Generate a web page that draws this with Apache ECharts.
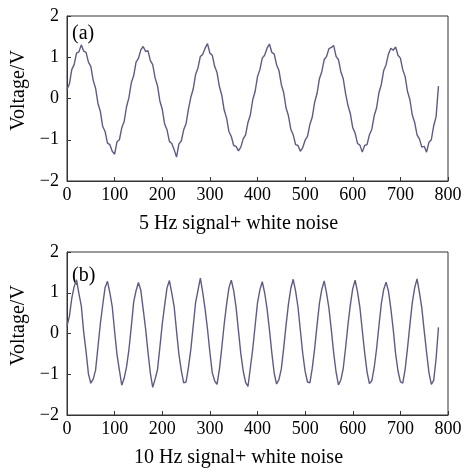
<!DOCTYPE html>
<html>
<head>
<meta charset="utf-8">
<script src="https://cdn.jsdelivr.net/npm/echarts@6/dist/echarts.min.js"></script>
<style>
    html, body { margin: 0; padding: 0; background: #fff; }
    #signal-chart { width: 475px; height: 469px; }
</style>
</head>
<body>
<div id="signal-chart"></div>
<script>
"use strict";

// sample index, one reading every 5 samples
var sampleIndex = [];
for (var s = 0; s <= 780; s += 5) sampleIndex.push(s);

var xTicks = [0, 100, 200, 300, 400, 500, 600, 700, 800];
var yTicks = [-2, -1, 0, 1, 2];

// (a) 5 Hz signal + white noise
var signal5Hz = [
    0.22, 0.35, 0.70, 0.82, 1.10, 1.13, 1.30, 1.15, 1.12, 0.88, 0.78, 0.44, 0.25, -0.12,
    -0.31, -0.68, -0.80, -1.08, -1.12, -1.28, -1.35, -1.05, -1.00, -0.71, -0.56, -0.20, 0.02,
    0.38, 0.55, 0.88, 0.97, 1.18, 1.26, 1.14, 1.16, 0.92, 0.82, 0.50, 0.31, -0.06,
    -0.26, -0.62, -0.76, -1.04, -1.09, -1.24, -1.42, -1.10, -1.03, -0.76, -0.61, -0.26, 0.03,
    0.23, 0.58, 0.74, 1.02, 1.07, 1.22, 1.33, 1.10, 1.05, 0.78, 0.63, 0.29, 0.08,
    -0.28, -0.47, -0.80, -0.92, -1.14, -1.16, -1.27, -1.18, -0.98, -0.88, -0.58, -0.40, -0.03,
    0.17, 0.53, 0.70, 0.98, 1.05, 1.22, 1.32, 1.12, 1.08, 0.82, 0.68, 0.34, 0.14,
    -0.23, -0.42, -0.75, -0.88, -1.12, -1.14, -1.28, -1.19, -1.01, -0.92, -0.63, -0.45, -0.09,
    0.12, 0.48, 0.65, 0.94, 1.02, 1.21, 1.24, 1.28, 1.02, 0.94, 0.65, 0.48, 0.12,
    -0.17, -0.37, -0.71, -0.84, -1.09, -1.13, -1.30, -1.14, -1.12, -0.88, -0.75, -0.42, -0.23,
    0.14, 0.34, 0.68, 0.82, 1.08, 1.22, 1.17, 1.25, 1.05, 0.98, 0.70, 0.53, 0.17,
    -0.03, -0.40, -0.58, -0.88, -0.98, -1.18, -1.16, -1.30, -1.06, -1.00, -0.66, -0.44, 0.30
];

// (b) 10 Hz signal + white noise
var signal10Hz = [
    0.18, 0.42, 0.86, 1.15, 1.32, 0.98, 0.68, 0.04, -0.44, -0.99, -1.22, -1.12, -0.90,
    -0.33, 0.24, 0.70, 1.13, 1.28, 1.00, 0.66, 0.05, -0.52, -0.90, -1.27, -1.10, -0.82,
    -0.40, 0.17, 0.77, 1.05, 1.25, 1.06, 0.59, 0.12, -0.45, -0.97, -1.32, -1.12, -0.89,
    -0.34, 0.23, 0.69, 1.12, 1.30, 0.99, 0.66, 0.06, -0.51, -0.91, -1.21, -1.19, -0.83,
    -0.39, 0.18, 0.76, 1.06, 1.36, 1.01, 0.60, 0.11, -0.46, -0.96, -1.16, -1.25, -0.88,
    -0.35, 0.22, 0.71, 1.12, 1.31, 1.05, 0.64, 0.07, -0.50, -0.92, -1.20, -1.30, -0.84,
    -0.38, 0.19, 0.75, 1.07, 1.27, 1.00, 0.61, 0.10, -0.47, -0.97, -1.24, -1.13, -0.87,
    -0.36, 0.21, 0.72, 1.11, 1.33, 1.04, 0.65, 0.08, -0.49, -0.93, -1.19, -1.21, -0.85,
    -0.37, 0.20, 0.74, 1.08, 1.29, 0.99, 0.62, 0.09, -0.48, -0.95, -1.26, -1.14, -0.86,
    -0.35, 0.22, 0.71, 1.10, 1.31, 1.02, 0.64, 0.08, -0.47, -0.94, -1.23, -1.16, -0.84,
    -0.38, 0.19, 0.73, 1.08, 1.26, 1.04, 0.61, 0.10, -0.50, -0.92, -1.18, -1.22, -0.88,
    -0.36, 0.21, 0.75, 1.12, 1.34, 1.01, 0.63, 0.07, -0.46, -0.96, -1.25, -1.15, -0.62,
    0.15
];

var panelNames = ["(a)", "(b)"];
var xTitles = ["5 Hz signal+ white noise", "10 Hz signal+ white noise"];
var yTitle = "Voltage/V";

(function () {

    function signalVM() {
        let self = this;
        let font = "'Liberation Serif', 'DejaVu Serif', serif";

        self.pairs = function (values) {
            return sampleIndex.map((x, i) => [x, values[i]]);
        }

        self.xAxis = function (gridIndex, name) {
            return {
                type: 'value', gridIndex: gridIndex,
                min: xTicks[0], max: xTicks[xTicks.length - 1], interval: 100,
                name: name, nameLocation: 'middle', nameGap: 33,
                // title sits a little left of the plot centre in the original
                nameTextStyle: { fontFamily: font, fontSize: 20, color: '#000', padding: [0, 38, 0, 0] },
                axisLine: { show: true, onZero: false, lineStyle: { color: '#333', width: 1 } },
                axisTick: { show: true, inside: true, length: 4, lineStyle: { color: '#333' } },
                axisLabel: { fontFamily: font, fontSize: 18, color: '#000', margin: 5 },
                splitLine: { show: false }
            };
        }

        self.yAxis = function (gridIndex) {
            return {
                type: 'value', gridIndex: gridIndex,
                min: yTicks[0], max: yTicks[yTicks.length - 1], interval: 1,
                name: yTitle, nameLocation: 'middle', nameGap: 30,
                nameTextStyle: { fontFamily: font, fontSize: 20, color: '#000', padding: [0, 0, 0, 16] },
                axisLine: { show: true, onZero: false, lineStyle: { color: '#333', width: 1 } },
                axisTick: { show: true, inside: true, length: 4, lineStyle: { color: '#333' } },
                axisLabel: {
                    fontFamily: font, fontSize: 18, color: '#000', margin: 8,
                    formatter: v => String(v).replace('-', '\u2212')
                },
                splitLine: { show: false }
            };
        }

        self.series = function (index, values) {
            return {
                type: 'line', xAxisIndex: index, yAxisIndex: index,
                data: self.pairs(values),
                showSymbol: false, smooth: false,
                lineStyle: { color: '#5e5b85', width: 1.4 }
            };
        }

        self.create = function () {
            try {
                self.chart = echarts.init(document.getElementById('signal-chart'), null, { renderer: 'canvas' });
                self.chart.setOption({
                    animation: false,
                    grid: [
                        { left: 67, top: 16, width: 381, height: 165, show: true, borderColor: '#333', borderWidth: 1 },
                        { left: 67, top: 252, width: 381, height: 164, show: true, borderColor: '#333', borderWidth: 1 }
                    ],
                    xAxis: [self.xAxis(0, xTitles[0]), self.xAxis(1, xTitles[1])],
                    yAxis: [self.yAxis(0), self.yAxis(1)],
                    graphic: [
                        { type: 'text', left: 72, top: 24, style: { text: panelNames[0], font: '20px ' + font, fill: '#000' } },
                        { type: 'text', left: 72, top: 266, style: { text: panelNames[1], font: '20px ' + font, fill: '#000' } }
                    ],
                    series: [self.series(0, signal5Hz), self.series(1, signal10Hz)]
                });
            } catch (e) {
                console.log(e.name + ': ' + e.message);
            }
        }
    };

    window.SignalVM = new signalVM();
    window.SignalVM.create();
})();
</script>
</body>
</html>
